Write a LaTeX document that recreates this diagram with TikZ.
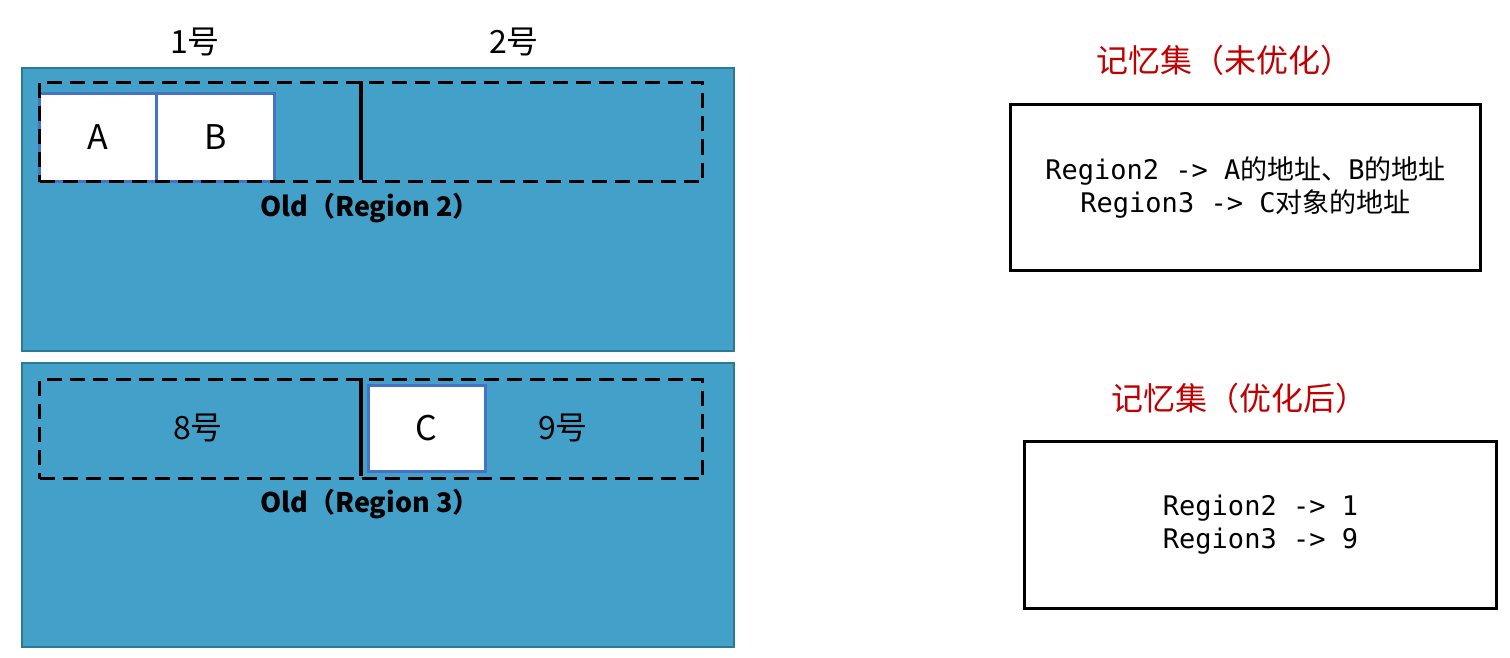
\documentclass[tikz,border=0pt]{standalone}
\usepackage{fontspec}
\setmainfont{Noto Sans CJK SC}
\newfontfamily\monofont{DejaVu Sans Mono}
\definecolor{regionblue}{RGB}{67,161,201}
\definecolor{regionborder}{RGB}{45,120,150}
\definecolor{objblue}{RGB}{68,114,196}
\definecolor{titlered}{RGB}{192,0,0}
\begin{document}
\begin{tikzpicture}[x=0.5pt,y=-0.5pt,
  region/.style={draw=regionborder, line width=1.2pt, fill=regionblue, anchor=north west, inner sep=0pt, minimum width=356pt},
  dashbox/.style={draw=black, line width=1.5pt, dash pattern=on 7.5pt off 4pt, anchor=north west, inner sep=0pt, minimum width=331.5pt, minimum height=49.5pt},
  obj/.style={draw=objblue, line width=1.3pt, fill=white, anchor=north west, inner sep=0pt, font=\fontsize{17}{20}\selectfont},
  divider/.style={draw=black, line width=1.6pt},
  lbl/.style={font=\fontsize{16}{19}\selectfont},
  oldlbl/.style={font=\fontsize{13.5}{16}\selectfont\bfseries},
  title/.style={text=titlered, font=\fontsize{16}{19}\selectfont},
  membox/.style={draw=black, line width=1.5pt, fill=white, anchor=north west, inner sep=0pt, align=center, font=\fontsize{13.5}{16.5}\selectfont},
]
\useasboundingbox (0,0) rectangle (1510,658);
\fill[white] (0,0) rectangle (1510,658);

% top region
\node[region, minimum height=141.5pt] (r2) at (21,67) {};
\node[obj, minimum width=58.5pt, minimum height=44pt] (A) at (38,92) {A};
\node[obj, minimum width=59pt, minimum height=44pt] (B) at (155,92) {B};
\node[dashbox] (d2) at (38,81) {};
\coordinate (s2t) at (361,81);
\coordinate (s2b) at (361,180);
\draw[divider] (s2t) -- (s2b);
\node[lbl] (n1) at (195,42) {1号};
\node[lbl] (n2) at (514,42) {2号};
\node[oldlbl] (o2) at (370,208) {Old（Region 2）};

% bottom region
\node[region, minimum height=142pt] (r3) at (21,362) {};
\node[dashbox] (d3) at (38,378) {};
\coordinate (s3t) at (361,378);
\coordinate (s3b) at (361,476);
\draw[divider] (s3t) -- (s3b);
\node[obj, minimum width=58.5pt, minimum height=43pt] (C) at (367,384) {C};
\node[lbl] (n8) at (198,428) {8号};
\node[lbl] (n9) at (563,428) {9号};
\node[oldlbl] (o3) at (370,504) {Old（Region 3）};

% remembered sets
\node[title] (t1) at (1224,60) {记忆集（未优化）};
\node[membox, minimum width=235pt, minimum height=83pt] (m1) at (1009,103)
  {{\monofont Region2 -> A}的地址、{\monofont B}的地址\\{\monofont Region3 -> C}对象的地址};
\node[title] (t2) at (1239,398) {记忆集（优化后）};
\node[membox, minimum width=236pt, minimum height=83.5pt] (m2) at (1023,440)
  {{\monofont Region2 -> 1}\\{\monofont Region3 -> 9}};
\end{tikzpicture}
\end{document}
